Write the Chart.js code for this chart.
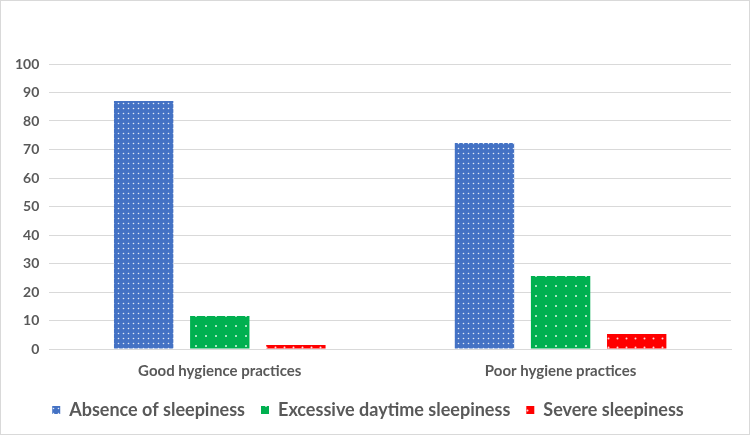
<!DOCTYPE html>
<html>
<head>
<meta charset="utf-8">
<script src="https://cdn.jsdelivr.net/npm/chart.js@4/dist/chart.umd.min.js"></script>
<style>
  html, body { margin: 0; padding: 0; background: #fff; }
  #wrap { width: 748px; height: 433px; border: 1px solid #d9d9d9; position: relative; }
</style>
</head>
<body>
<div id="wrap"><canvas id="sleepChart"></canvas></div>
<script>
const categories = ["Good hygience practices", "Poor hygiene practices"];
const absence = [87, 72.3];
const excessive = [11.6, 25.6];
const severe = [1.4, 5.3];
const yTicks = [0, 10, 20, 30, 40, 50, 60, 70, 80, 90, 100];

// white dot fill like the Excel pattern
function dots(color, step, r) {
  const c = document.createElement("canvas");
  c.width = step;
  c.height = step;
  const g = c.getContext("2d");
  g.fillStyle = color;
  g.fillRect(0, 0, step, step);
  g.fillStyle = "rgba(255,255,255,0.85)";
  g.beginPath();
  g.arc(step / 2, step / 2, r, 0, Math.PI * 2);
  g.fill();
  return g.createPattern(c, "repeat");
}

const ctx = document.getElementById("sleepChart").getContext("2d");

new Chart(ctx, {
  type: "bar",
  data: {
    labels: categories,
    datasets: [
      { label: "Absence of sleepiness", data: absence, backgroundColor: dots("#4472C4", 5, 0.8) },
      { label: "Excessive daytime sleepiness", data: excessive, backgroundColor: dots("#00B050", 10, 1) },
      { label: "Severe sleepiness", data: severe, backgroundColor: dots("#FF0000", 9, 1) },
    ],
  },
  options: {
    responsive: true,
    maintainAspectRatio: false,
    animation: false,
    categoryPercentage: 0.67,
    barPercentage: 0.78,
    layout: { padding: { top: 63, right: 18, left: 4, bottom: 5 } },
    plugins: {
      tooltip: { enabled: false },
      legend: {
        position: "bottom",
        labels: {
          color: "#595959",
          font: { family: "Lato", size: 18, weight: "bold" },
          boxWidth: 8,
          boxHeight: 8,
          padding: 16,
        },
      },
    },
    scales: {
      x: {
        grid: { display: false },
        border: { color: "#d9d9d9" },
        ticks: {
          color: "#595959",
          font: { family: "Lato", size: 15, weight: "bold" },
          padding: 5,
        },
      },
      y: {
        min: 0,
        max: 100,
        afterBuildTicks: (axis) => { axis.ticks = yTicks.map((v) => ({ value: v })); },
        grid: { color: "#d9d9d9", drawTicks: false },
        border: { display: false },
        ticks: {
          color: "#595959",
          font: { family: "Lato", size: 14, weight: "bold" },
          padding: 10,
        },
      },
    },
  },
});
</script>
</body>
</html>
